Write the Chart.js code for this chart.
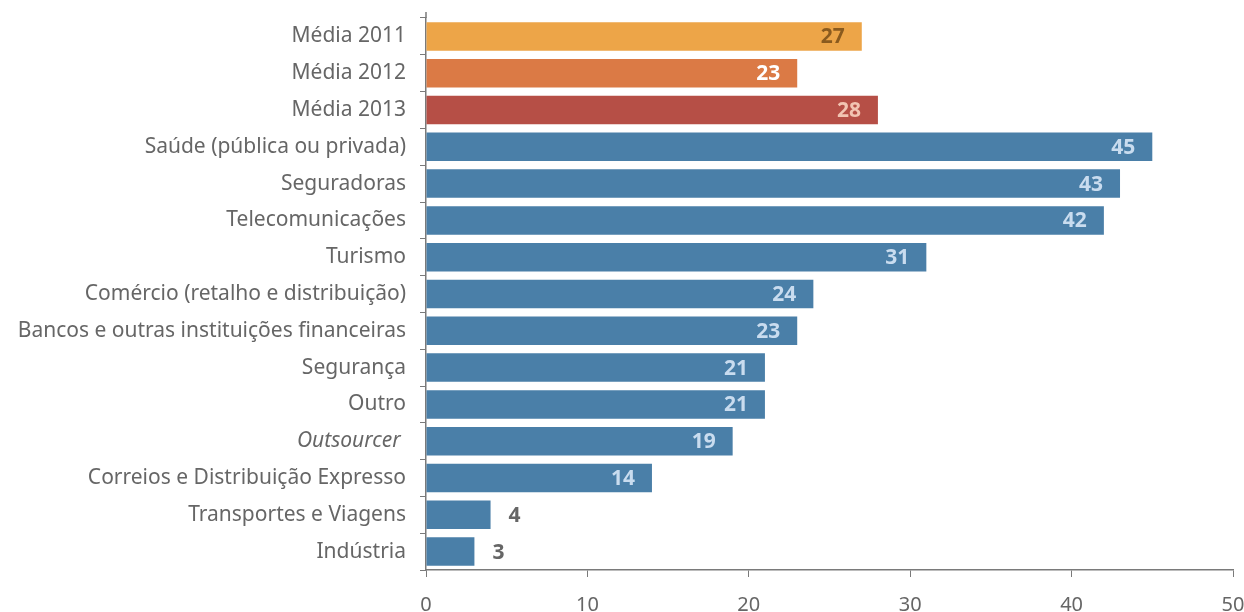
<!DOCTYPE html>
<html>
<head>
<meta charset="utf-8">
<script src="https://cdn.jsdelivr.net/npm/chart.js@4.4.1/dist/chart.umd.min.js"></script>
<style>
  html, body { margin: 0; padding: 0; background: #fff; }
  #wrap { width: 1244px; height: 612px; position: relative; }
</style>
</head>
<body>
<div id="wrap"><canvas id="chart"></canvas></div>
<script>
// ==================== DATA ====================
const categories = [
    'Média 2011', 'Média 2012', 'Média 2013',
    'Saúde (pública ou privada)', 'Seguradoras', 'Telecomunicações', 'Turismo',
    'Comércio (retalho e distribuição)', 'Bancos e outras instituições financeiras',
    'Segurança', 'Outro', 'Outsourcer ', 'Correios e Distribuição Expresso',
    'Transportes e Viagens', 'Indústria'
];
const values = [27, 23, 28, 45, 43, 42, 31, 24, 23, 21, 21, 19, 14, 4, 3];
const xTicks = [0, 10, 20, 30, 40, 50];

// ==================== STYLE ====================
const BLUE = '#4a7fa8';
const barColors = ['#eda548', '#db7a45', '#b64f46'];
const labelColors = ['#8a5a1e', '#ffffff', '#f2c4b2'];
const FONT = '"Noto Sans", "Open Sans", sans-serif';
const AXIS = '#7a7a7a';

// value labels: inside near the bar end, outside for short bars
const valueLabels = {
    id: 'valueLabels',
    afterDatasetsDraw(chart) {
        const { ctx } = chart;
        const meta = chart.getDatasetMeta(0);
        ctx.save();
        ctx.font = 'bold 21px ' + FONT;
        ctx.textBaseline = 'middle';
        meta.data.forEach((bar, i) => {
            const v = values[i];
            if (v < 10) {
                ctx.fillStyle = '#666666';
                ctx.textAlign = 'left';
                ctx.fillText(v, bar.x + 18, bar.y + 1);
            } else {
                ctx.fillStyle = labelColors[i] || '#c9dcef';
                ctx.textAlign = 'right';
                ctx.fillText(v, bar.x - 17, bar.y + 1);
            }
        });
        ctx.restore();
    }
};

// the vertical axis line runs a few pixels past the first category
const axisCap = {
    id: 'axisCap',
    afterDraw(chart) {
        const { ctx, chartArea } = chart;
        ctx.save();
        ctx.strokeStyle = AXIS;
        ctx.lineWidth = 1.5;
        ctx.beginPath();
        ctx.moveTo(chartArea.left, chartArea.top - 6);
        ctx.lineTo(chartArea.left, chartArea.top);
        ctx.stroke();
        ctx.restore();
    }
};

const ctx = document.getElementById('chart').getContext('2d');
new Chart(ctx, {
    type: 'bar',
    data: {
        labels: categories,
        datasets: [{
            data: values,
            backgroundColor: values.map((v, i) => barColors[i] || BLUE),
            borderWidth: 0,
            barPercentage: 0.775,
            categoryPercentage: 1
        }]
    },
    options: {
        indexAxis: 'y',
        responsive: true,
        maintainAspectRatio: false,
        animation: false,
        layout: { padding: { top: 18, right: 11, left: 0, bottom: 0 } },
        plugins: {
            legend: { display: false },
            tooltip: { enabled: false }
        },
        scales: {
            x: {
                min: 0,
                max: 50,
                afterBuildTicks: scale => { scale.ticks = xTicks.map(v => ({ value: v })); },
                afterFit: scale => { scale.height = 42; scale.paddingRight = 0; scale.paddingLeft = 0; },
                border: { color: AXIS, width: 1.5 },
                grid: { drawOnChartArea: false, color: AXIS, tickLength: 7, lineWidth: 1 },
                ticks: { color: '#666666', font: { family: FONT, size: 20 }, padding: 16 }
            },
            y: {
                afterFit: scale => { scale.width = 426; scale.paddingTop = 0; scale.paddingBottom = 0; },
                border: { color: AXIS, width: 1.5 },
                grid: { drawOnChartArea: false, offset: true, color: AXIS, tickLength: 6, lineWidth: 1 },
                ticks: {
                    color: '#666666',
                    padding: 14,
                    font: c => ({
                        family: FONT,
                        size: 21,
                        style: categories[c.index] === 'Outsourcer ' ? 'italic' : 'normal'
                    })
                }
            }
        }
    },
    plugins: [valueLabels, axisCap]
});
</script>
</body>
</html>
